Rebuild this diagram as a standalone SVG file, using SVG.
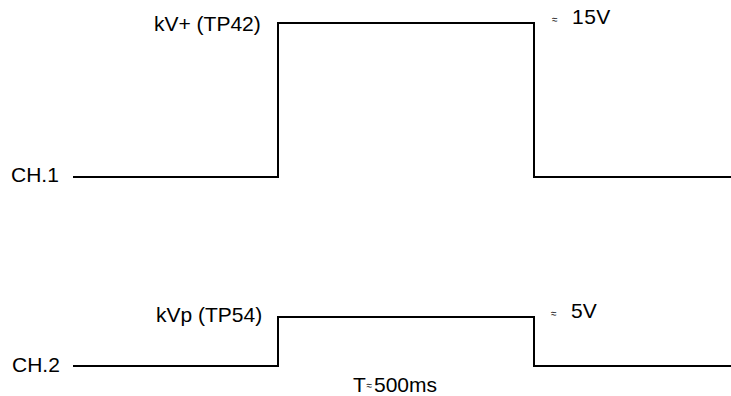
<svg xmlns="http://www.w3.org/2000/svg" width="731" height="396" viewBox="0 0 731 396">
<style>
.t{font-family:"Liberation Sans",Arial,sans-serif;font-size:21px;fill:#000}
.a{font-family:"Liberation Sans",Arial,sans-serif;font-size:10px;fill:#000}
.w{fill:none;stroke:#000;stroke-width:2;stroke-linejoin:miter}
</style>
<rect width="731" height="396" fill="#fff"/>
<g id="ch1">
<text class="t" x="11" y="182">CH.1</text>
<text class="t" x="154" y="31">kV+ (TP42)</text>
<text class="a" x="552" y="23">≈</text>
<text class="t" x="572" y="24" letter-spacing="0.5">15V</text>
</g>
<g id="ch2">
<text class="t" x="12" y="372">CH.2</text>
<text class="t" x="156" y="322">kVp (TP54)</text>
<text class="a" x="551" y="317">≈</text>
<text class="t" x="571" y="318">5V</text>
<text class="t" x="353" y="392">T</text>
<text class="a" x="366.5" y="389">≈</text>
<text class="t" x="374" y="392">500ms</text>
</g>
<g id="connectors">
<polyline class="w" points="73,177 278,177 278,23 534,23 534,177 731,177"/>
<polyline class="w" points="73,366 278,366 278,317 534,317 534,366 731,366"/>
</g>
</svg>
